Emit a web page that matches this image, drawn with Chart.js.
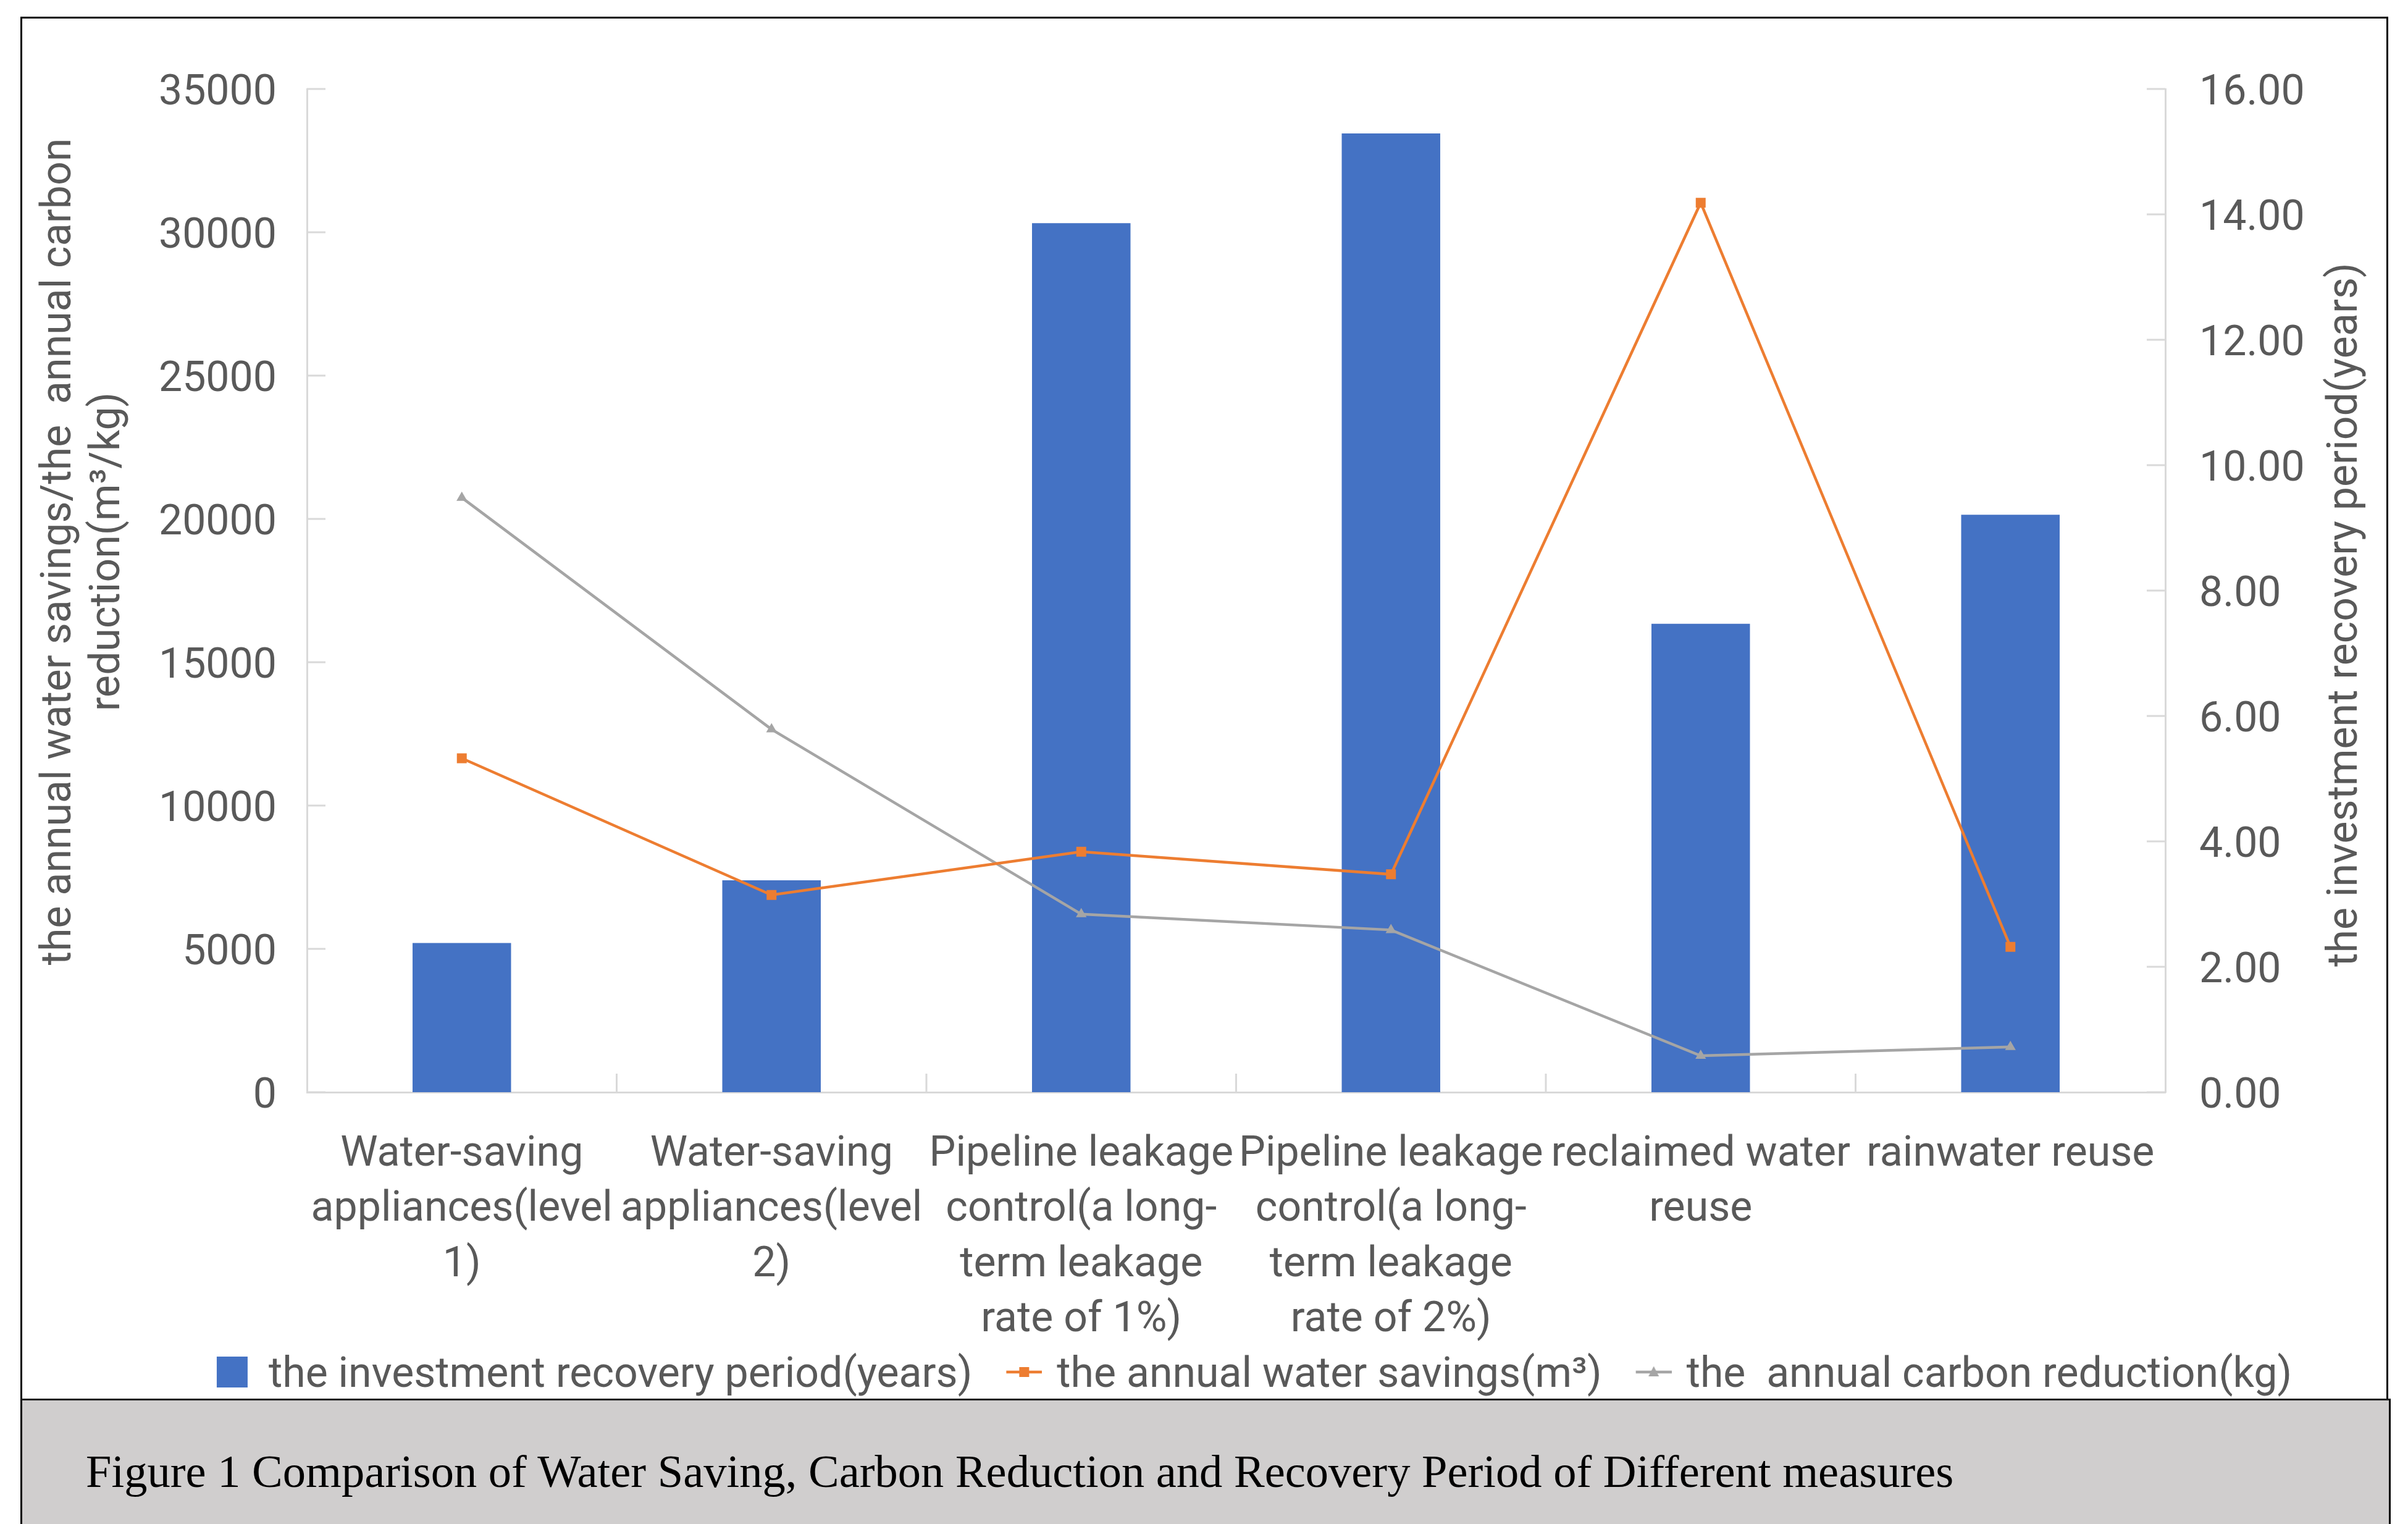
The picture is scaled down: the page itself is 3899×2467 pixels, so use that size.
<!DOCTYPE html>
<html>
<head>
<meta charset="utf-8">
<script src="https://cdn.jsdelivr.net/npm/chart.js@4.4.1/dist/chart.umd.min.js"></script>
<style>
html,body{margin:0;padding:0;background:#fff;}
#wrap{position:relative;width:3899px;height:2467px;overflow:hidden;background:#fff;}
#frame{position:absolute;left:33px;top:27px;width:3834px;height:2238px;border:3px solid #000;border-bottom:none;box-sizing:border-box;}
#cap{position:absolute;left:33px;top:2264px;width:3838px;height:220px;background:#D0CECE;border-top:3px solid #222;border-left:3px solid #000;border-right:3px solid #000;box-sizing:border-box;}
#capText{position:absolute;left:139px;top:2345px;font-family:"Liberation Serif","Times New Roman",serif;font-size:74.5px;line-height:74px;color:#000;white-space:nowrap;}
#c{position:absolute;left:0;top:0;}
</style>
</head>
<body>
<div id="wrap">
  <div id="frame"></div>
  <canvas id="c" width="3899" height="2272"></canvas>
  <div id="cap"></div>
  <div id="capText">Figure 1 Comparison of Water Saving, Carbon Reduction and Recovery Period of Different measures</div>
</div>
<script>
// ---- data ----
const categories = [
  ["Water-saving", "appliances(level", "1)"],
  ["Water-saving", "appliances(level", "2)"],
  ["Pipeline leakage", "control(a long-", "term leakage", "rate of 1%)"],
  ["Pipeline leakage", "control(a long-", "term leakage", "rate of 2%)"],
  ["reclaimed water", "reuse"],
  ["rainwater reuse"]
];
const seriesNames = [
  "the investment recovery period(years)",
  "the annual water savings(m\u00B3)",
  "the  annual carbon reduction(kg)"
];
const recoveryYears   = [2.38, 3.38, 13.86, 15.29, 7.47, 9.21];
const waterSavings    = [11650, 6880, 8390, 7600, 31030, 5070];
const carbonReduction = [20740, 12660, 6210, 5660, 1270, 1580];
const leftTicks  = {min: 0, max: 35000, step: 5000};
const rightTicks = {min: 0, max: 16, step: 2};
const leftTitle  = ["the annual water savings/the  annual carbon", "reduction(m\u00B3/kg)"];
const rightTitle = "the investment recovery period(years)";

// ---- styles ----
const BLUE = "#4472C4", ORANGE = "#ED7D31", GRAY = "#A5A5A5";
const TXT = "#595959", AXIS = "#D9D9D9";
const FONT = "Roboto, 'Open Sans', sans-serif";
const FS = 68;
const BOXW = 94;           // legend box slot width
const ICW = BOXW + 20;     // icon canvas width

function legendIcon(kind, color) {
  const c = document.createElement('canvas');
  c.width = ICW; c.height = 64;
  const g = c.getContext('2d');
  const cy = 25;
  g.fillStyle = color;
  if (kind === 'box') {
    g.fillRect(ICW - 60, cy - 25, 50, 50);
    return c;
  }
  const x1 = ICW - 58, x2 = ICW, xm = (x1 + x2) / 2;
  g.strokeStyle = color; g.lineWidth = 4.5;
  g.beginPath(); g.moveTo(x1, cy); g.lineTo(x2, cy); g.stroke();
  if (kind === 'rect') {
    g.fillRect(xm - 8, cy - 8, 16, 16);
  } else {
    g.beginPath(); g.moveTo(xm, cy - 9.5); g.lineTo(xm + 8.5, cy + 7); g.lineTo(xm - 8.5, cy + 7); g.closePath(); g.fill();
  }
  return c;
}
const icons = [legendIcon('box', BLUE), legendIcon('rect', ORANGE), legendIcon('tri', GRAY)];

const decor = {
  id: 'decor',
  beforeDatasetsDraw(chart) {
    const ctx = chart.ctx, a = chart.chartArea;
    const yL = chart.scales.yL, yR = chart.scales.yR;
    ctx.save();
    ctx.strokeStyle = AXIS; ctx.lineWidth = 3;
    ctx.beginPath();
    yL.ticks.forEach(t => { const y = yL.getPixelForValue(t.value); ctx.moveTo(a.left, y); ctx.lineTo(a.left + 30, y); });
    yR.ticks.forEach(t => { const y = yR.getPixelForValue(t.value); ctx.moveTo(a.right, y); ctx.lineTo(a.right - 30, y); });
    const n = categories.length;
    for (let i = 1; i < n; i++) {
      const x = a.left + i * (a.right - a.left) / n;
      ctx.moveTo(x, a.bottom); ctx.lineTo(x, a.bottom - 30);
    }
    ctx.stroke();
    ctx.restore();
  },
  afterDraw(chart) {
    const ctx = chart.ctx;
    ctx.save();
    ctx.fillStyle = TXT;
    ctx.font = FS + "px " + FONT;
    ctx.textAlign = 'center'; ctx.textBaseline = 'middle';
    ctx.translate(97, 893); ctx.rotate(-Math.PI / 2);
    ctx.fillText(leftTitle[0], 0, 0);
    ctx.fillText(leftTitle[1], 0, 79);
    ctx.restore();
    ctx.save();
    ctx.fillStyle = TXT;
    ctx.font = FS + "px " + FONT;
    ctx.textAlign = 'center'; ctx.textBaseline = 'middle';
    ctx.translate(3799, 995); ctx.rotate(-Math.PI / 2);
    ctx.fillText(rightTitle, 0, 0);
    ctx.restore();
  }
};

function fixW(w) { return s => { s.width = w; s.paddingTop = 0; s.paddingBottom = 0; }; }

new Chart(document.getElementById('c'), {
  type: 'bar',
  data: {
    labels: categories,
    datasets: [
      { type: 'bar', label: seriesNames[0], data: recoveryYears, yAxisID: 'yR',
        backgroundColor: BLUE, borderWidth: 0, barPercentage: 0.318, categoryPercentage: 1, order: 3 },
      { type: 'line', label: seriesNames[1], data: waterSavings, yAxisID: 'yL',
        borderColor: ORANGE, backgroundColor: ORANGE, borderWidth: 4.5, tension: 0,
        pointStyle: 'rect', pointRadius: 11.3, pointBorderWidth: 0, pointBackgroundColor: ORANGE, order: 1 },
      { type: 'line', label: seriesNames[2], data: carbonReduction, yAxisID: 'yL',
        borderColor: GRAY, backgroundColor: GRAY, borderWidth: 4.5, tension: 0,
        pointStyle: 'triangle', pointRadius: 10, pointBorderWidth: 0, pointBackgroundColor: GRAY, order: 2 }
    ]
  },
  options: {
    responsive: false, animation: false, devicePixelRatio: 1,
    layout: { padding: { top: 144, left: 154, right: 35, bottom: 0 } },
    plugins: {
      tooltip: { enabled: false },
      legend: {
        position: 'bottom',
        labels: {
          usePointStyle: true, pointStyleWidth: BOXW, padding: 9,
          color: TXT, font: { family: FONT, size: FS },
          sort: (a, b) => a.datasetIndex - b.datasetIndex,
          generateLabels(chart) {
            const items = Chart.defaults.plugins.legend.labels.generateLabels(chart);
            items.forEach(it => { it.pointStyle = icons[it.datasetIndex]; it.lineWidth = 0; });
            return items;
          }
        }
      }
    },
    scales: {
      x: {
        type: 'category', offset: true,
        grid: { display: false, drawTicks: false },
        border: { display: true, color: AXIS, width: 3 },
        ticks: { color: TXT, font: { family: FONT, size: FS, lineHeight: 1.316 }, padding: 57,
                 autoSkip: false, maxRotation: 0, minRotation: 0 },
        afterFit: s => { s.height = 417; s.paddingLeft = 0; s.paddingRight = 0; }
      },
      yL: {
        type: 'linear', position: 'left',
        min: leftTicks.min, max: leftTicks.max,
        grid: { display: false, drawTicks: false },
        border: { display: true, color: AXIS, width: 3 },
        ticks: { stepSize: leftTicks.step, color: TXT, font: { family: FONT, size: FS }, padding: 49,
                 labelOffset: 8, callback: v => String(v) },
        afterFit: fixW(343)
      },
      yR: {
        type: 'linear', position: 'right',
        min: rightTicks.min, max: rightTicks.max,
        grid: { display: false, drawTicks: false },
        border: { display: true, color: AXIS, width: 3 },
        ticks: { stepSize: rightTicks.step, color: TXT, font: { family: FONT, size: FS }, padding: 55,
                 labelOffset: 8, callback: v => Number(v).toFixed(2) },
        afterFit: fixW(358)
      }
    }
  },
  plugins: [decor]
});
</script>
</body>
</html>
